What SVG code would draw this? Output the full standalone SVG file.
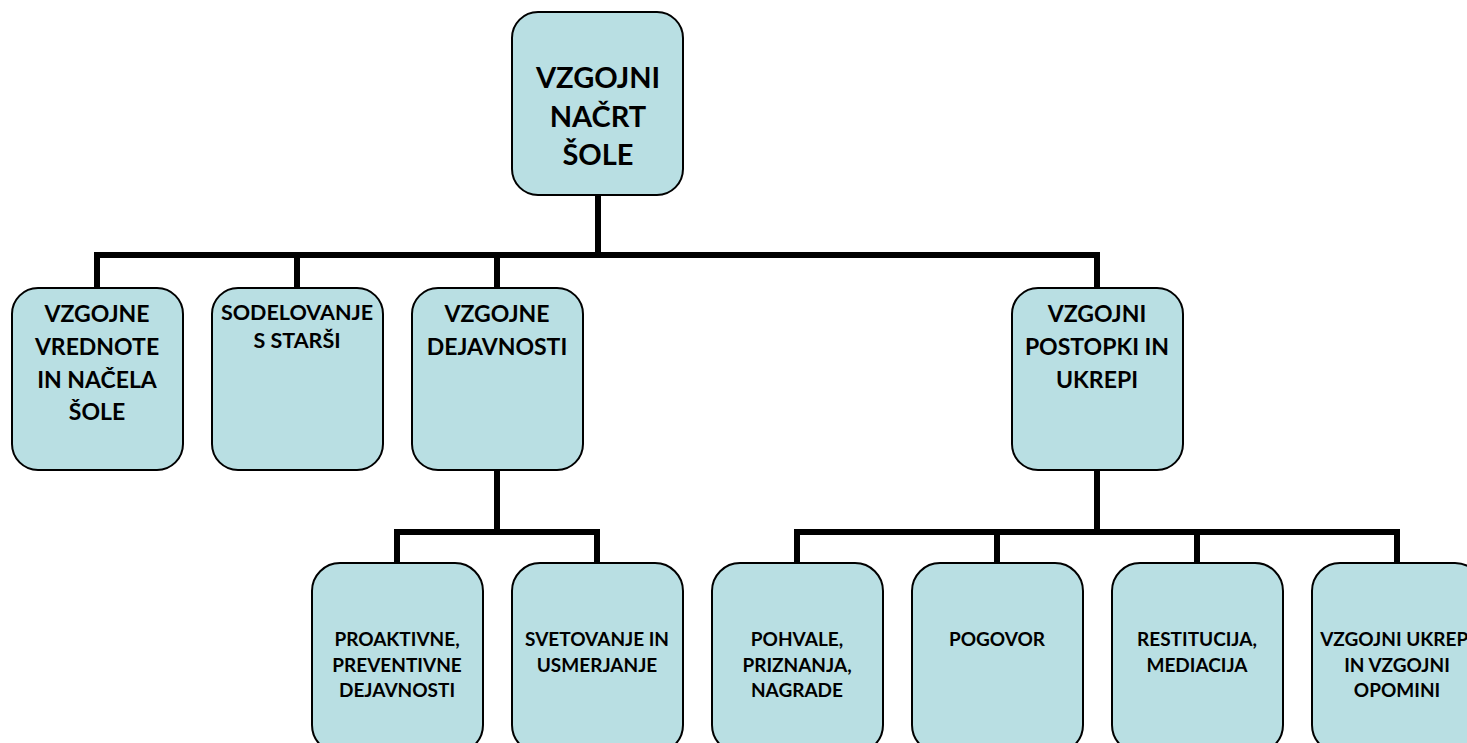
<svg xmlns="http://www.w3.org/2000/svg" width="1467" height="743" viewBox="0 0 1467 743">
<style>
.box{fill:#B9DFE3;stroke:#000;stroke-width:2}
.t{font-family:Lato,"Open Sans","Liberation Sans",sans-serif;font-weight:bold;fill:#000;text-anchor:middle}
.t1{font-size:29px}
.t2{font-size:23px}
.t3{font-size:19px}
.t4{font-size:21.5px}
.c{fill:none;stroke:#000;stroke-width:6;stroke-linejoin:miter;stroke-linecap:butt}
</style>
<rect width="1467" height="743" fill="#fff"/>
<g id="connectors">
<path class="c" d="M598 195V255M97 288V255H1097V288M297 255V288M497 255V288"/>
<path class="c" d="M497 470V532M397 563V532H597V563"/>
<path class="c" d="M1097 470V532M797 563V532H1397V563M997 532V563M1197 532V563"/>
</g>
<g id="root">
<rect class="box" x="512" y="12" width="171" height="183" rx="26"/>
<text class="t t1" x="598" y="88">VZGOJNI</text>
<text class="t t1" x="598" y="127">NAČRT</text>
<text class="t t1" x="598" y="165">ŠOLE</text>
</g>
<g id="n1">
<rect class="box" x="12" y="288" width="171" height="182" rx="26"/>
<text class="t t2" x="97" y="322">VZGOJNE</text>
<text class="t t2" x="97" y="355">VREDNOTE</text>
<text class="t t2" x="97" y="388">IN NAČELA</text>
<text class="t t2" x="97" y="420">ŠOLE</text>
</g>
<g id="n2">
<rect class="box" x="212" y="288" width="171" height="182" rx="26"/>
<text class="t t4" x="297" y="320">SODELOVANJE</text>
<text class="t t4" x="297" y="348">S STARŠI</text>
</g>
<g id="n3">
<rect class="box" x="412" y="288" width="171" height="182" rx="26"/>
<text class="t t2" x="497" y="322">VZGOJNE</text>
<text class="t t2" x="497" y="355">DEJAVNOSTI</text>
</g>
<g id="n4">
<rect class="box" x="1012" y="288" width="171" height="182" rx="26"/>
<text class="t t2" x="1097" y="322">VZGOJNI</text>
<text class="t t2" x="1097" y="355">POSTOPKI IN</text>
<text class="t t2" x="1097" y="388">UKREPI</text>
</g>
<g id="n5">
<rect class="box" x="312" y="563" width="171" height="190" rx="28"/>
<text class="t t3" x="397" y="646">PROAKTIVNE,</text>
<text class="t t3" x="397" y="672">PREVENTIVNE</text>
<text class="t t3" x="397" y="697">DEJAVNOSTI</text>
</g>
<g id="n6">
<rect class="box" x="512" y="563" width="171" height="190" rx="28"/>
<text class="t t3" x="597" y="646">SVETOVANJE IN</text>
<text class="t t3" x="597" y="672">USMERJANJE</text>
</g>
<g id="n7">
<rect class="box" x="712" y="563" width="171" height="190" rx="28"/>
<text class="t t3" x="797" y="646">POHVALE,</text>
<text class="t t3" x="797" y="672">PRIZNANJA,</text>
<text class="t t3" x="797" y="697">NAGRADE</text>
</g>
<g id="n8">
<rect class="box" x="912" y="563" width="171" height="190" rx="28"/>
<text class="t t3" x="997" y="646">POGOVOR</text>
</g>
<g id="n9">
<rect class="box" x="1112" y="563" width="171" height="190" rx="28"/>
<text class="t t3" x="1197" y="646">RESTITUCIJA,</text>
<text class="t t3" x="1197" y="672">MEDIACIJA</text>
</g>
<g id="n10">
<rect class="box" x="1312" y="563" width="171" height="190" rx="28"/>
<text class="t t3" x="1397" y="646">VZGOJNI UKREPI</text>
<text class="t t3" x="1397" y="672">IN VZGOJNI</text>
<text class="t t3" x="1397" y="697">OPOMINI</text>
</g>
</svg>
